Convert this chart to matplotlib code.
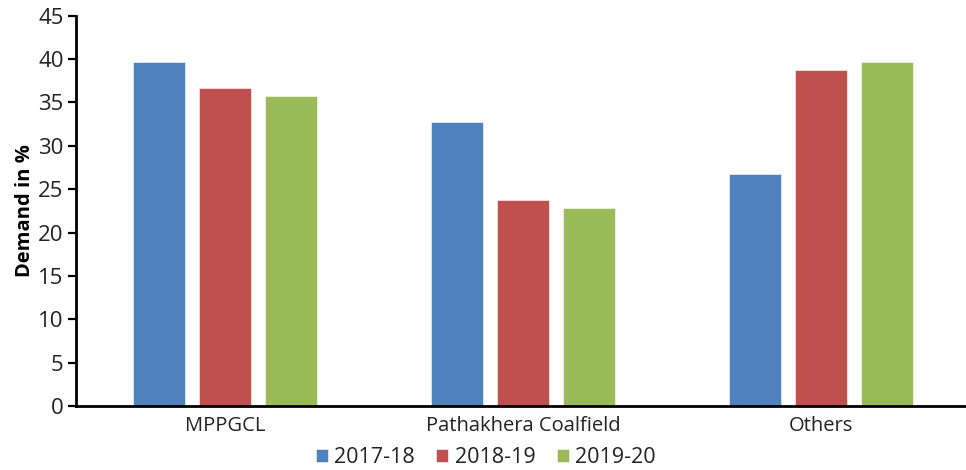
import numpy as np
import matplotlib
matplotlib.use('Agg')
import matplotlib.pyplot as plt

categories = ['MPPGCL', 'Pathakhera Coalfield', 'Others']
years = ['2017-18', '2018-19', '2019-20']
demand_1718 = [39.7, 32.8, 26.8]
demand_1819 = [36.7, 23.8, 38.7]
demand_1920 = [35.7, 22.8, 39.7]
colors = ['#4F81BD', '#C0504D', '#9BBB59']

plt.rcParams['font.family'] = ['Open Sans', 'DejaVu Sans']

fig = plt.figure(figsize=(9.66, 4.70), dpi=100)
ax = fig.add_axes([0.0787, 0.1362, 0.9213, 0.8304])

x = np.arange(len(categories))
width = 0.176
pitch = 0.222
series = [demand_1718, demand_1819, demand_1920]
for i in range(len(series)):
    ax.bar(x + (i - 1) * pitch, series[i], width, color=colors[i],
           label=years[i], edgecolor='white', linewidth=0.4)

ax.set_xlim(-0.5, 2.487)
ax.set_ylim(0, 45)
ax.set_yticks(range(0, 50, 5))
ax.set_xticks(x)
ax.set_xticklabels(categories, fontsize=14.5, color='#222222')
ax.tick_params(axis='y', labelsize=16, length=6, width=1.6, pad=3, labelcolor='#222222')
ax.tick_params(axis='x', length=0, pad=7)
ax.spines['top'].set_visible(False)
ax.spines['right'].set_visible(False)
ax.spines['left'].set_linewidth(2)
ax.spines['bottom'].set_linewidth(2)
ax.set_ylabel('Demand in %', fontsize=14.5, fontweight='bold', labelpad=2)

fig.legend(loc='center', bbox_to_anchor=(0.503, 0.027), ncol=3, frameon=False,
           fontsize=15.5, handlelength=0.55, handleheight=0.55, handletextpad=0.3,
           columnspacing=1.0, labelcolor='#222222')

fig.savefig('out.png', dpi=100)
